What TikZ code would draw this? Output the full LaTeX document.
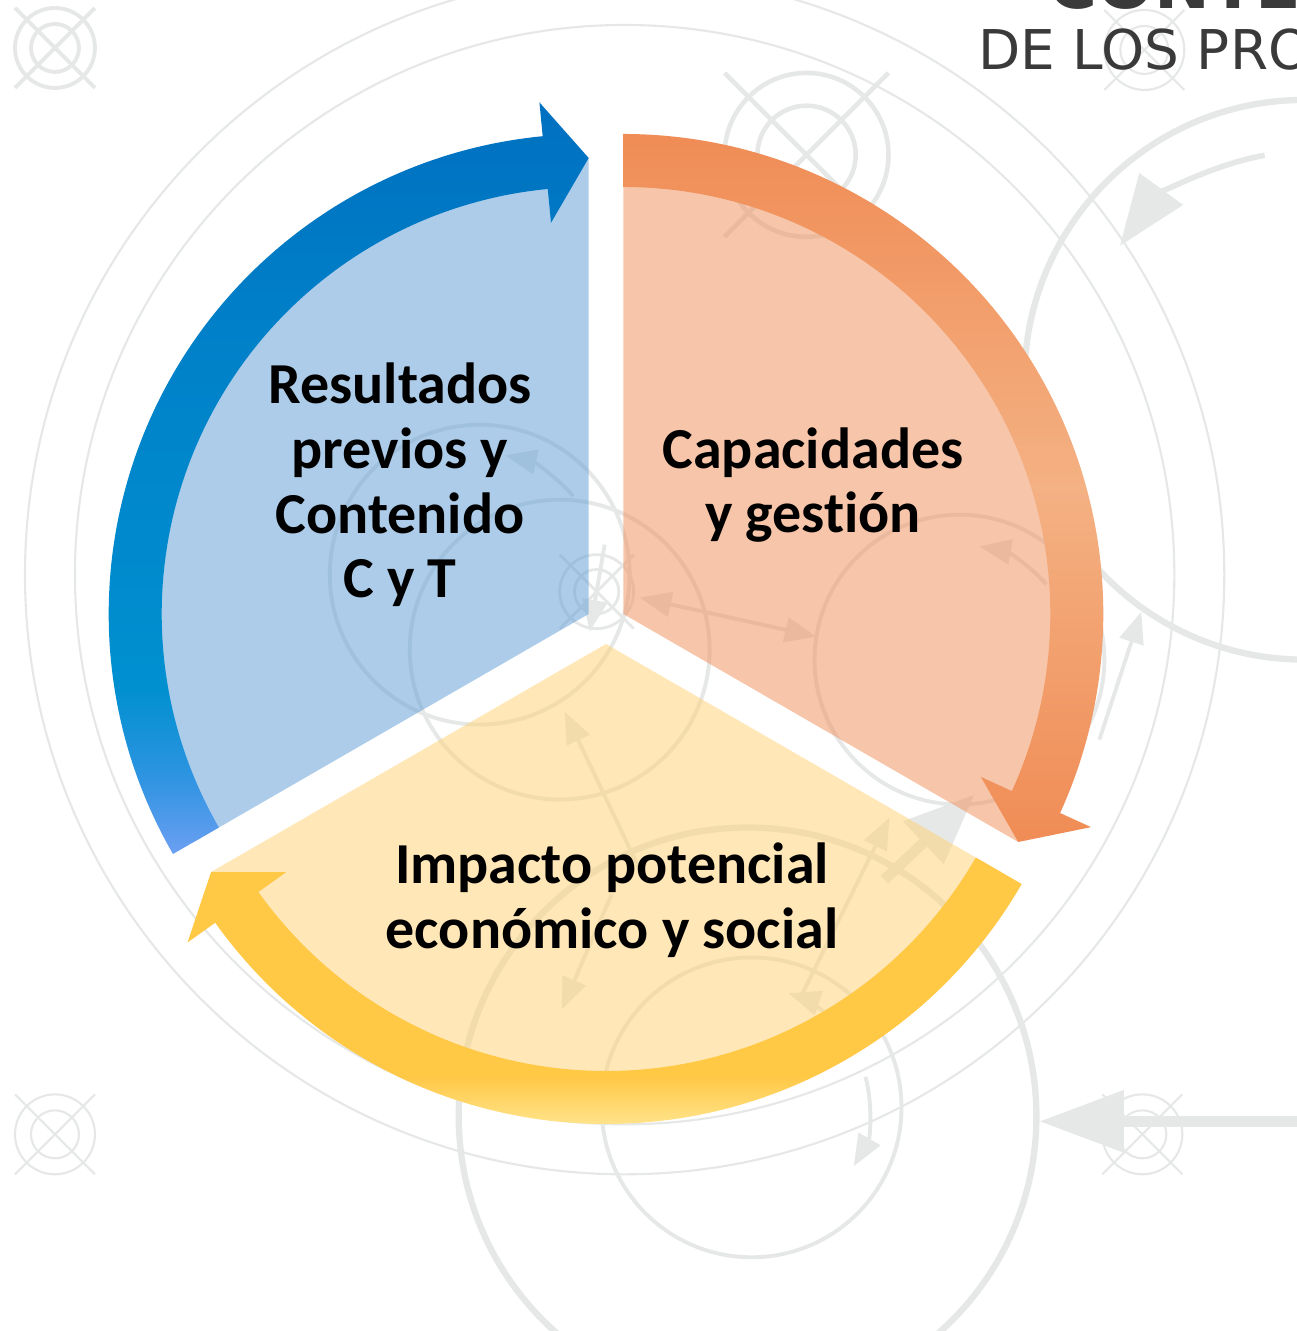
\documentclass[tikz,border=0pt]{standalone}
\usepackage{fontspec}
\setmainfont[Ligatures={NoCommon}]{Carlito}
\newfontfamily\titlefont{DejaVu Sans}
\usetikzlibrary{calc,arrows.meta}

\definecolor{bluedark}{HTML}{0070C0}
\definecolor{bluedeep}{HTML}{0080C8}
\definecolor{bluemid}{HTML}{0090D0}
\definecolor{bluesoft}{HTML}{2F94E2}
\definecolor{bluelow}{HTML}{6C9FF2}
\definecolor{bluefill}{HTML}{5B9BD5}
\definecolor{orangedark}{HTML}{F08C55}
\definecolor{orangelight}{HTML}{F4B183}
\definecolor{orangefill}{HTML}{F08C55}
\definecolor{yellowdark}{HTML}{FFC845}
\definecolor{yellowlight}{HTML}{FFE38A}
\definecolor{yellowfill}{HTML}{FFD171}
\definecolor{bggrey}{HTML}{E6E8E8}
\definecolor{titlegrey}{HTML}{3A3A3A}

\pgfdeclareverticalshading{blueband}{100bp}{color(0bp)=(bluelow); color(25bp)=(bluelow); color(30bp)=(bluesoft); color(36bp)=(bluemid); color(60bp)=(bluedeep); color(75bp)=(bluedark); color(100bp)=(bluedark)}
\pgfdeclareverticalshading{orangeband}{100bp}{color(0bp)=(orangedark); color(25bp)=(orangedark); color(50bp)=(orangelight); color(75bp)=(orangedark); color(100bp)=(orangedark)}
\pgfdeclareverticalshading{yellowband}{100bp}{color(0bp)=(yellowlight); color(25bp)=(yellowlight); color(34bp)=(yellowdark); color(100bp)=(yellowdark)}

\tikzstyle{sectorfill}=[fill opacity=0.5]
\tikzstyle{cyclelabel}=[font=\fontsize{16.5}{18.4}\selectfont\bfseries, align=center, text=black, inner sep=0pt]
\tikzstyle{bgthin}=[draw=bggrey, line width=0.6pt]
\tikzstyle{bgmid}=[draw=bggrey, line width=1.1pt]
\tikzstyle{bgthick}=[draw=bggrey, line width=1.8pt]
\tikzstyle{bgarrow}=[draw=bggrey, line width=1.1pt, -{Triangle[length=9pt,width=7pt]}]

\begin{document}
\begin{tikzpicture}

    \useasboundingbox (0,0) rectangle (12.96,13.31);
    \fill[white] (0,0) rectangle (12.96,13.31);

    % faint background, in pixel units
    \begin{scope}[shift={(0,13.31)}, x=0.01cm, y=-0.01cm]
        \foreach \r in {550,600}
            \draw[bgthin] (625,575) circle[radius=\r];
        \draw[bgthick] (1305,380) circle[radius=280];
        \draw[bgthick] (748,1117) circle[radius=289];
        \foreach \x/\y/\r in {480/575/150, 560/650/150, 960/660/145, 752/1108/150}
            \draw[bgmid] (\x,\y) circle[radius=\r];
        % crosshair marks
        \foreach \x/\y/\r/\w in {55/48/40/1.1pt, 55/1135/40/0.6pt, 807/155/82/1.3pt, 1145/50/40/0.6pt, 1143/1135/40/0.6pt, 597/592/37/0.8pt}
            \draw[draw=bggrey, line width=\w] (\x,\y) circle[radius=\r] (\x,\y) circle[radius=0.6*\r]
                (\x-\r,\y-\r) -- (\x+\r,\y+\r) (\x+\r,\y-\r) -- (\x-\r,\y+\r);
        % arrows
        \draw[bgarrow, line width=1.6pt, -{Triangle[length=20pt,width=15pt]}] (1305,380) ++(260:228) arc[start angle=260, end angle=216, radius=228];
        \draw[bgarrow] (480,575) ++(-40:122) arc[start angle=-40, end angle=-78, radius=122];
        \draw[bgarrow] (960,660) ++(-41:115) arc[start angle=-41, end angle=-80, radius=115];
        \draw[bgarrow] (752,1108) ++(-50:120) arc[start angle=-50, end angle=-72, radius=120];
        \draw[bgarrow] (752,1108) ++(-15:118) arc[start angle=-15, end angle=30, radius=118];
        \foreach \a/\b in {{(605,545)/(590,632)}, {(640,870)/(565,712)}, {(612,895)/(562,1010)}, {(800,1000)/(890,818)}, {(1100,740)/(1142,612)}}
            \draw[bgarrow] \a -- \b;
        \draw[bgarrow, {Triangle[length=9pt,width=7pt]}-{Triangle[length=9pt,width=7pt]}] (640,598) -- (817,637);
        \draw[bgarrow, line width=3pt, -{Triangle[length=20pt,width=16pt]}] (885,880) -- (975,795);
        \draw[bgarrow, line width=3pt, -{Triangle[length=24pt,width=17pt]}] (1310,1122) -- (1040,1122);
    \end{scope}

    % the three sectors of the cycle
    \coordinate (centre) at (6.06,7.07);
    \coordinate (cb) at ($(centre)+(150:0.2)$);
    \coordinate (co) at ($(centre)+(30:0.2)$);
    \coordinate (cy) at ($(centre)+(270:0.2)$);

    \foreach \c/\a/\col in {cb/90/bluefill, co/-30/orangefill, cy/210/yellowfill}
        \fill[sectorfill, \col] (\c) -- ++(\a:4.56) arc[start angle=\a, end angle=\a+120, radius=4.56] -- cycle;

    % curved arrows round each sector
    \foreach \c/\s/\t/\shd in {cb/210/90/blueband, co/90/-30/orangeband, cy/-30/-150/yellowband}
        \shade[shading=\shd] ($(\c)+(\s:4.8)$) arc[start angle=\s, end angle=\t+5.5, radius=4.8]
            -- ($(\c)+(\t+5.5:5.14)$) -- ($(\c)+(\t:4.56)$) -- ($(\c)+(\t+5.5:3.93)$)
            -- ($(\c)+(\t+5.5:4.27)$) arc[start angle=\t+5.5, end angle=\s, radius=4.27] -- cycle;

    \node[cyclelabel] (resultados) at (4.00,8.46) {Resultados\\previos y\\Contenido\\C y T};
    \node[cyclelabel] (capacidades) at (8.13,8.46) {Capacidades\\y gestión};
    \node[cyclelabel] (impacto) at (6.12,4.31) {Impacto potencial\\económico y social};

    % heading, cut by the frame
    \node[anchor=base west, inner sep=0pt, text=titlegrey, font=\titlefont\bfseries\fontsize{19}{20}\selectfont] (heading) at (10.48,13.22) {CONTE};
    \node[anchor=base west, inner sep=0pt, text=titlegrey, font=\titlefont\fontsize{15.6}{17}\selectfont] (subheading) at (9.78,12.61) {DE LOS PRO};

\end{tikzpicture}
\end{document}
